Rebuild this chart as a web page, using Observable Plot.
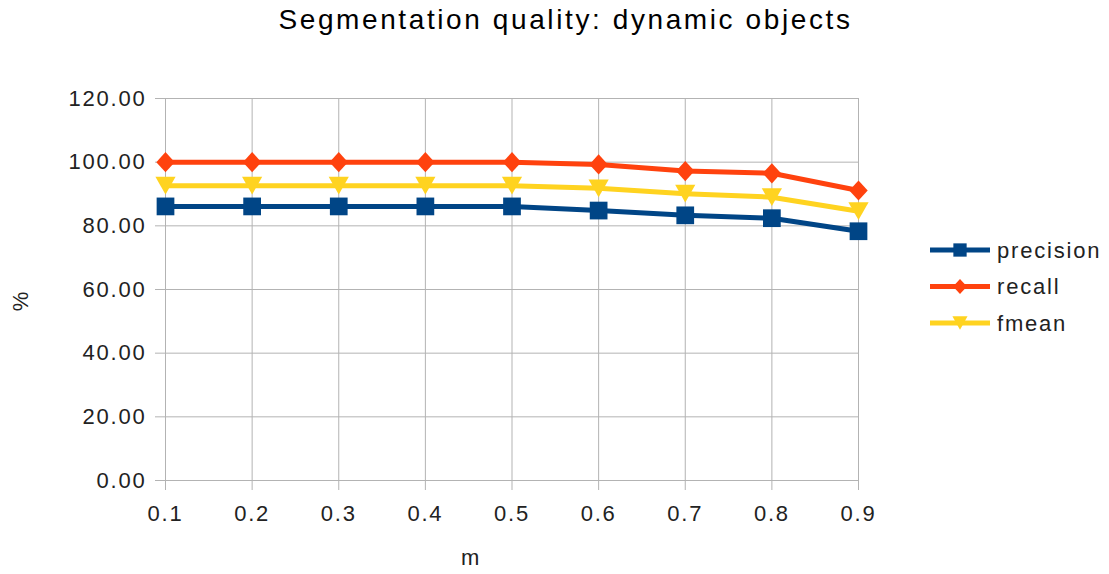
<!DOCTYPE html>
<html>
<head>
<meta charset="utf-8">
<script src="https://cdn.jsdelivr.net/npm/d3@7"></script>
<script src="https://cdn.jsdelivr.net/npm/@observablehq/plot@0.6"></script>
<style>
  body { margin: 0; background: #fff; font-family: "Liberation Sans", Arial, sans-serif; }
  #wrap { position: relative; width: 1109px; height: 574px; overflow: hidden; background: #fff; }
  #title { position: absolute; left: 11px; width: 1109px; top: 4px; text-align: center;
           font-size: 28px; line-height: 32px; letter-spacing: 2.6px; color: #000; white-space: nowrap; }
  #chart { position: absolute; left: 0; top: 45px; }
  #legend { position: absolute; left: 925px; top: 230px; }
</style>
</head>
<body>
<div id="wrap">
  <div id="title">Segmentation quality: dynamic objects</div>
  <div id="chart"></div>
  <div id="legend"></div>
</div>
<script>
// ---- data ----
const mValues = [0.1, 0.2, 0.3, 0.4, 0.5, 0.6, 0.7, 0.8, 0.9];
const precision = [86.1, 86.1, 86.1, 86.1, 86.1, 84.8, 83.3, 82.4, 78.3];
const recall    = [100.0, 100.0, 100.0, 100.0, 100.0, 99.3, 97.2, 96.5, 91.1];
const fmean     = [92.6, 92.6, 92.6, 92.6, 92.6, 91.8, 90.1, 89.0, 84.6];
const seriesNames = ["precision", "recall", "fmean"];
const seriesColors = ["#004586", "#ff420e", "#ffd320"];
const yTicks = [0, 20, 40, 60, 80, 100, 120];
const titleText = "Segmentation quality: dynamic objects";
const xLabel = "m";
const yLabel = "%";

// ---- custom symbols ----
const squareSym = { draw(ctx, size) { const s = Math.sqrt(size) / 2; ctx.moveTo(-s, -s); ctx.lineTo(s, -s); ctx.lineTo(s, s); ctx.lineTo(-s, s); ctx.closePath(); } };
const diamondSym = { draw(ctx, size) { const q = Math.sqrt(size); const hx = q * 0.52, hy = q * 0.57; ctx.moveTo(0, -hy); ctx.lineTo(hx, 0); ctx.lineTo(0, hy); ctx.lineTo(-hx, 0); ctx.closePath(); } };
const triDownSym = { draw(ctx, size) { const q = Math.sqrt(size); const hx = q * 0.57, hy = q * 0.5; ctx.moveTo(-hx, -hy); ctx.lineTo(hx, -hy); ctx.lineTo(0, hy); ctx.closePath(); } };
const symbols = [squareSym, diamondSym, triDownSym];

const valuesBySeries = [precision, recall, fmean];
const data = seriesNames.flatMap((s, k) => mValues.map((m, i) => ({ m, v: valuesBySeries[k][i], s })));

document.getElementById("title").textContent = titleText;

const grid = "#b3b3b3";
const seriesMarks = seriesNames.flatMap((s, k) => {
  const d = data.filter(r => r.s === s);
  return [
    Plot.line(d, { x: "m", y: "v", stroke: seriesColors[k], strokeWidth: 5, strokeLinejoin: "round" }),
    Plot.dot(d, { x: "m", y: "v", fill: seriesColors[k], stroke: "none", symbol: symbols[k], r: 10 })
  ];
});

const chart = Plot.plot({
  width: 1109,
  height: 529,
  marginTop: 53,
  marginBottom: 94,
  marginLeft: 165,
  marginRight: 251,
  style: "font-family: 'Liberation Sans', Arial, sans-serif; font-size: 22px; letter-spacing: 1.8px; background: #fff; color: #222;",
  x: { type: "linear", domain: [mValues[0], mValues[mValues.length - 1]] },
  y: { domain: [yTicks[0], yTicks[yTicks.length - 1]] },
  marks: [
    Plot.gridX(mValues, { stroke: grid, strokeOpacity: 1, strokeWidth: 1 }),
    Plot.gridY(yTicks, { stroke: grid, strokeOpacity: 1, strokeWidth: 1 }),
    Plot.axisX({ ticks: mValues, tickSize: 10, tickPadding: 15, tickFormat: d3.format(".1f"), stroke: grid, fill: "#222", label: null, fontSize: 22 }),
    Plot.axisY({ ticks: yTicks, tickSize: 10, tickPadding: 9, tickFormat: d => d.toFixed(2), stroke: grid, fill: "#222", label: null, fontSize: 22 }),
    ...seriesMarks,
    Plot.text([xLabel], { frameAnchor: "bottom", text: d => d, dy: 84, dx: -41, textAnchor: "middle", fill: "#222", fontSize: 22 }),
    Plot.text([yLabel], { frameAnchor: "left", text: d => d, dx: -145, dy: 11, rotate: -90, textAnchor: "middle", fill: "#222", fontSize: 22 })
  ]
});
document.getElementById("chart").appendChild(chart);

// ---- legend ----
const leg = d3.select("#legend").append("svg").attr("width", 184).attr("height", 110)
  .style("font-family", "'Liberation Sans', Arial, sans-serif").style("font-size", "22px").style("letter-spacing", "1.8px");
seriesNames.forEach((s, k) => {
  const g = leg.append("g").attr("transform", `translate(0, ${20 + k * 36.5})`);
  g.append("line").attr("x1", 5).attr("x2", 65).attr("y1", 0).attr("y2", 0)
    .attr("stroke", seriesColors[k]).attr("stroke-width", 5);
  g.append("path").attr("transform", "translate(35,0)")
    .attr("d", d3.symbol(symbols[k], Math.PI * 7.5 * 7.5)()).attr("fill", seriesColors[k]);
  g.append("text").attr("x", 72).attr("y", 0).attr("dy", "0.35em").attr("fill", "#222").text(s);
});
</script>
</body>
</html>
